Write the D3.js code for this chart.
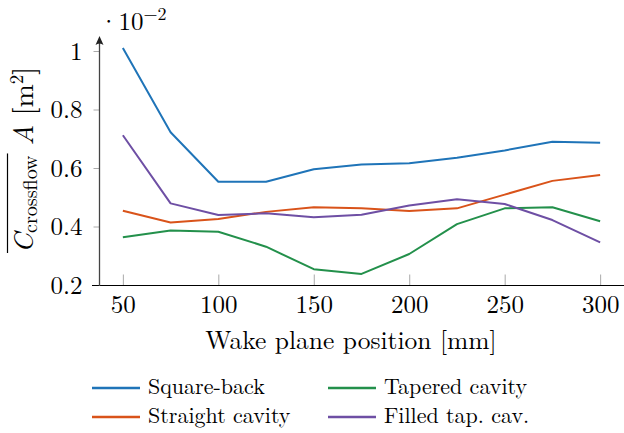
<!DOCTYPE html>
<html>
<head>
<meta charset="utf-8">
<script src="https://cdn.jsdelivr.net/npm/d3@7"></script>
<style>
  body { margin: 0; background: #fff; }
</style>
</head>
<body>
<svg id="chart" width="624" height="433"></svg>
<script>
// wake plane positions (mm)
const positions = [50, 75, 100, 125, 150, 175, 200, 225, 250, 275, 300];

// mean crossflow coefficient times area, in 1e-2 m^2
const squareBack     = [1.01, 0.722, 0.553, 0.553, 0.596, 0.612, 0.616, 0.635, 0.660, 0.690, 0.686];
const straightCavity = [0.454, 0.414, 0.426, 0.450, 0.466, 0.462, 0.453, 0.462, 0.509, 0.556, 0.576];
const taperedCavity  = [0.363, 0.386, 0.382, 0.331, 0.254, 0.238, 0.306, 0.408, 0.462, 0.466, 0.418];
const filledTapCav   = [0.712, 0.479, 0.439, 0.445, 0.432, 0.440, 0.472, 0.493, 0.477, 0.422, 0.346];

const seriesNames = ["Square-back", "Straight cavity", "Tapered cavity", "Filled tap. cav."];
const seriesColors = ["#1f74b8", "#d9531a", "#23904b", "#6e4fa4"];

const xTicks = [50, 100, 150, 200, 250, 300];
const yTicks = [0.2, 0.4, 0.6, 0.8, 1];

const fontFam = "Latin Modern Roman";

const svg = d3.select("#chart");

let series = [squareBack, straightCavity, taperedCavity, filledTapCav].map(function(vals, i) {
	return {
		name: seriesNames[i],
		color: seriesColors[i],
		points: positions.map(function(p, j) { return {x: p, y: vals[j]}; })
	};
});

// scales
let xScale = d3.scaleLinear().domain([37.5, 312.5]).range([99, 624]);
let yScale = d3.scaleLinear().domain([0.2, 1.0]).range([285, 51]);

// x axis
let xAxis = svg.append("g")
	.attr("class", "x axis")
	.attr("transform", "translate(0,285.5)")
	.call(d3.axisBottom(xScale).tickValues(xTicks).tickSize(-11).tickPadding(10));
xAxis.attr("font-family", fontFam).attr("font-size", 25);
xAxis.select(".domain").remove();
xAxis.selectAll(".tick line").attr("stroke", "#aaa").attr("stroke-width", 1);

// y axis
let yAxis = svg.append("g")
	.attr("class", "y axis")
	.attr("transform", "translate(99.5,0)")
	.call(d3.axisLeft(yScale).tickValues(yTicks).tickSize(6).tickPadding(11)
		.tickFormat(function(d) { return d === 1 ? "1" : d3.format(".1f")(d); }));
yAxis.attr("font-family", fontFam).attr("font-size", 25);
yAxis.select(".domain").remove();
yAxis.selectAll(".tick line").attr("stroke", "#aaa").attr("stroke-width", 1);

// axis lines
svg.append("line")
	.attr("x1", 92).attr("x2", 624)
	.attr("y1", 285.5).attr("y2", 285.5)
	.attr("stroke", "#000").attr("stroke-width", 1.2);

svg.append("line")
	.attr("x1", 99.5).attr("x2", 99.5)
	.attr("y1", 286).attr("y2", 40)
	.attr("stroke", "#444").attr("stroke-width", 1.3);

// arrow head on the y axis
svg.append("path")
	.attr("d", "M99.5,36 L95.5,45 Q99.5,42 103.5,45 Z")
	.attr("fill", "#222");

// lines
let line = d3.line()
	.x(function(d) { return xScale(d.x); })
	.y(function(d) { return yScale(d.y); });

svg.append("g").selectAll("path")
	.data(series)
	.enter().append("path")
	.attr("d", function(d) { return line(d.points); })
	.attr("fill", "none")
	.attr("stroke", function(d) { return d.color; })
	.attr("stroke-width", 2)
	.attr("stroke-linejoin", "round");

// scale factor label
let scaleLabel = svg.append("text")
	.attr("x", 99).attr("y", 30)
	.attr("font-size", 25);
scaleLabel.append("tspan").text("·10");
scaleLabel.append("tspan")
	.attr("dy", -10)
	.attr("font-size", 18)
	.text("−2");

// x label
svg.append("text")
	.attr("x", 351).attr("y", 349)
	.attr("text-anchor", "middle")
	.attr("font-size", 25.5)
	.text("Wake plane position [mm]");

// y label
let yLabel = svg.append("g")
	.attr("transform", "translate(33,253) rotate(-90)");
let yText = yLabel.append("text")
	.attr("x", 0).attr("y", 0)
	.attr("font-size", 28);
yText.append("tspan").attr("font-style", "italic").text("C");
yText.append("tspan").attr("dy", 4).attr("font-size", 20).text("crossflow");
yText.append("tspan").attr("dy", -4).attr("font-style", "italic").text(" A");
yText.append("tspan").text(" [m");
yText.append("tspan").attr("dy", -10).attr("font-size", 19).text("2");
yText.append("tspan").attr("dy", 10).text("]");

// legend
let legendItems = [
	{s: series[0], x: 92, y: 388},
	{s: series[2], x: 328, y: 388},
	{s: series[1], x: 92, y: 417},
	{s: series[3], x: 328, y: 417}
];

let legend = svg.append("g").attr("class", "legend");
let item = legend.selectAll("g")
	.data(legendItems)
	.enter().append("g")
	.attr("transform", function(d) { return "translate(" + d.x + "," + d.y + ")"; });

item.append("line")
	.attr("x1", 0).attr("x2", 48)
	.attr("y1", 0).attr("y2", 0)
	.attr("stroke", function(d) { return d.s.color; })
	.attr("stroke-width", 2.5);

item.append("text")
	.attr("x", 56).attr("y", 6)
	.attr("font-size", 22)
	.text(function(d) { return d.s.name; });

// serif everywhere, black text
svg.selectAll("text").attr("font-family", fontFam).attr("fill", "#000");

// overline over C_crossflow, sized from the rendered text
let tsp = yText.selectAll("tspan").nodes();
let olEnd = tsp[1].getComputedTextLength() + tsp[0].getComputedTextLength();
yLabel.append("line")
	.attr("x1", 0).attr("x2", olEnd + 2)
	.attr("y1", -25.5).attr("y2", -25.5)
	.attr("stroke", "#000").attr("stroke-width", 1.2);
</script>
</body>
</html>
